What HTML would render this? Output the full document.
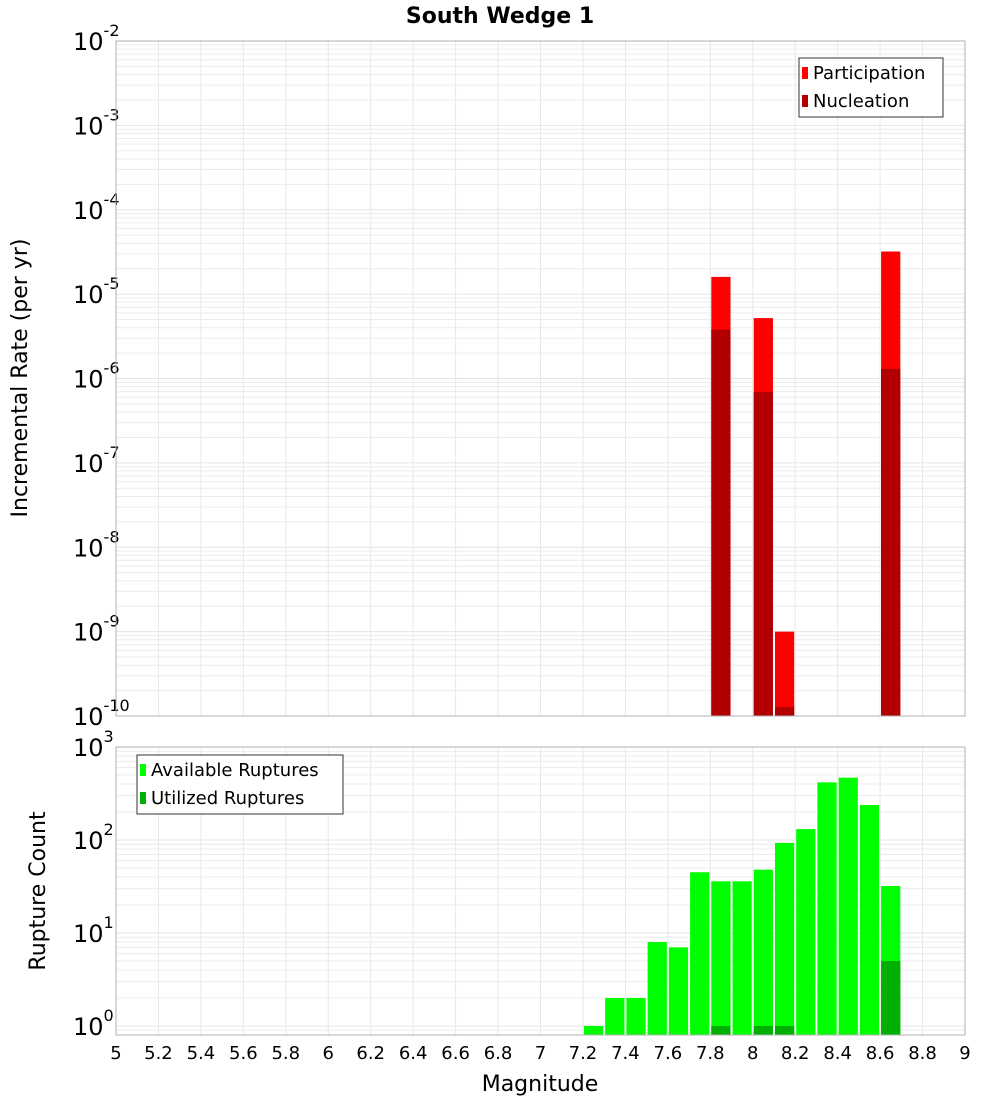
<!DOCTYPE html>
<html><head><meta charset="utf-8"><style>
body{margin:0;background:#fff;}
svg{display:block;font-family:"DejaVu Sans","Liberation Sans",sans-serif;}
</style></head><body>
<svg id="chart" width="1000" height="1100">
<text x="500" y="23" text-anchor="middle" font-size="22" font-weight="bold">South Wedge 1</text>
<g id="top"></g><g id="bot"></g>
<text transform="translate(27,378) rotate(-90)" text-anchor="middle" font-size="22">Incremental Rate (per yr)</text>
<text transform="translate(45,891) rotate(-90)" text-anchor="middle" font-size="22">Rupture Count</text>
<text x="540" y="1091" text-anchor="middle" font-size="22">Magnitude</text>
</svg>
<script>
const topMags=[7.85,8.05,8.15,8.65];
const participation=[1.6e-5,5.2e-6,1.0e-9,3.2e-5];
const nucleation=[3.8e-6,6.9e-7,1.28e-10,1.3e-6];
const botMags=[7.25,7.35,7.45,7.55,7.65,7.75,7.85,7.95,8.05,8.15,8.25,8.35,8.45,8.55,8.65];
const available=[1,2,2,8,7,45,36,36,48,93,131,417,468,238,32];
const utilizedMags=[7.85,8.05,8.15,8.65];
const utilized=[1,1,1,5];
const xTicks=[5,5.2,5.4,5.6,5.8,6,6.2,6.4,6.6,6.8,7,7.2,7.4,7.6,7.8,8,8.2,8.4,8.6,8.8,9];
const topExps=[-2,-3,-4,-5,-6,-7,-8,-9,-10];
const botExps=[3,2,1,0];

const NS="http://www.w3.org/2000/svg";
const X0=116,X1=965;
function xs(m){return X0+(m-5)/4*(X1-X0);}
function mk(p,tag,a){const e=document.createElementNS(NS,tag);for(const k in a)e.setAttribute(k,a[k]);p.appendChild(e);return e;}
function panel(g,yT,yB,lmin,lmax,exps,name){
  const ys=v=>yB-(Math.log10(v)-lmin)/(lmax-lmin)*(yB-yT);
  const bg=mk(g,'rect',{x:X0,y:yT,width:X1-X0,height:yB-yT,fill:'#fff'});
  
  
  for(let d=Math.floor(lmin);d<Math.ceil(lmax);d++){for(let k=1;k<10;k++){const l=d+Math.log10(k);if(l<lmin||l>lmax)continue;const y=yB-(l-lmin)/(lmax-lmin)*(yB-yT);
    const gl=mk(g,'line',{x1:X0,x2:X1,y1:y,y2:y,stroke:k==1?'#e4e4e4':'#ececec','stroke-width':1});
    
    }}
  xTicks.forEach(t=>{const vl=mk(g,'line',{x1:xs(t),x2:xs(t),y1:yT,y2:yB,stroke:'#e8e8e8'});
    
    });
  exps.forEach(e=>{const y=ys(Math.pow(10,e));const t=mk(g,'text',{x:73,y:y+9,'font-size':24});
    
    
    t.textContent='10';const s=mk(t,'tspan',{dy:-14,'font-size':16});s.textContent=String(e);});
  return ys;
}
const gt=document.getElementById('top'),gb=document.getElementById('bot');
const yT=panel(gt,41,716,-10,-2,topExps,'top');
const bw=xs(5.1)-xs(5)-2;
topMags.forEach((m,i)=>{
  const r=mk(gt,'rect',{x:xs(m-0.05)+1,y:yT(participation[i]),width:bw,height:716-yT(participation[i]),fill:'#ff0000'});
  
  
  const n=mk(gt,'rect',{x:xs(m-0.05)+1,y:yT(nucleation[i]),width:bw,height:716-yT(nucleation[i]),fill:'#b20000'});
  
  
});
const yB=panel(gb,747,1035,Math.log10(0.8),3,botExps,'bottom');
botMags.forEach((m,i)=>{
  const r=mk(gb,'rect',{x:xs(m-0.05)+1,y:yB(available[i]),width:bw,height:1035-yB(available[i]),fill:'#00ff00'});
  
  
});
utilizedMags.forEach((m,i)=>{
  const r=mk(gb,'rect',{x:xs(m-0.05)+1,y:yB(utilized[i]),width:bw,height:1035-yB(utilized[i]),fill:'#00b000'});
  
  
});
[[gt,41,716],[gb,747,1035]].forEach(([g,a,b])=>{const f=mk(g,'rect',{x:X0,y:a,width:X1-X0,height:b-a,fill:'none',stroke:'#b0b0b0'});
  
  });
xTicks.forEach(t=>{const tx=mk(gb,'text',{x:xs(t),y:1059,'text-anchor':'middle','font-size':18});
  
  
  tx.textContent=String(t);});
function legend(g,x,y,w,items,name){
  const b=mk(g,'rect',{x:x,y:y,width:w,height:59,fill:'#fff',stroke:'#333'});
  
  
  items.forEach(([c,l],i)=>{const sw=mk(g,'rect',{x:x+3,y:y+9+i*28,width:6,height:12,fill:c});
    
    
    const t=mk(g,'text',{x:x+14,y:y+21+i*28,'font-size':18});
    
    
    t.textContent=l;});
}
legend(gt,799,58,144,[['#ff0000','Participation'],['#b20000','Nucleation']],'top-legend');
legend(gb,137,755,206,[['#00ff00','Available Ruptures'],['#00b000','Utilized Ruptures']],'bottom-legend');
</script>
</body></html>
